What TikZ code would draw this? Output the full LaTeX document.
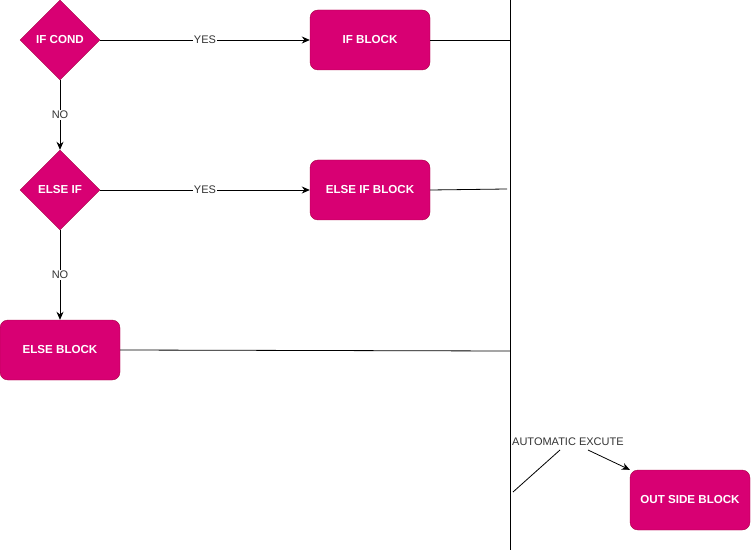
\documentclass[tikz,border=0pt]{standalone}
\usepackage{fontspec}
\setmainfont{Liberation Sans}
\usetikzlibrary{shapes.geometric,arrows.meta}
\definecolor{mag}{HTML}{D80073}
\definecolor{magline}{HTML}{A50040}
\definecolor{lbl}{HTML}{333333}
\tikzset{
  blk/.style={draw=magline,fill=mag,rounded corners=8pt,minimum width=120pt,minimum height=60pt,inner sep=0pt,text=white,font=\bfseries\fontsize{11.6pt}{13pt}\selectfont},
  dia/.style={diamond,draw=magline,fill=mag,minimum width=80pt,minimum height=80pt,inner sep=0pt,text=white,font=\bfseries\fontsize{11.6pt}{13pt}\selectfont},
  arr/.style={-{Stealth[length=8pt,width=7pt]},line width=0.8pt},
  ln/.style={line width=0.8pt},
  elbl/.style={fill=white,inner sep=1pt,text=lbl,font=\fontsize{11pt}{13pt}\selectfont}
}
\begin{document}
\begin{tikzpicture}[x=1pt,y=-1pt]
\useasboundingbox (0,0) rectangle (752,553);
\node[dia] (ifc) at (60,40) {IF COND};
\node[blk] (ifb) at (370,40) {IF BLOCK};
\node[dia] (elif) at (60,190) {ELSE IF};
\node[blk] (elifb) at (370,190) {ELSE IF BLOCK};
\node[blk] (elseb) at (60,350) {ELSE BLOCK};
\node[blk] (outb) at (690,500) {OUT SIDE BLOCK};
\coordinate (vtop) at (510,0);
\coordinate (vbot) at (510,550);
\coordinate (j1) at (510,40);
\coordinate (j2) at (507,189);
\coordinate (j3) at (510,351);
\coordinate (a1) at (513,492);
\coordinate (a2) at (560,450);
\coordinate (a3) at (588,450);
\node[inner sep=0pt,anchor=west,text=lbl,font=\fontsize{11pt}{13pt}\selectfont] (auto) at (512,442) {AUTOMATIC EXCUTE};
\draw[ln] (vtop) -- (vbot);
\draw[arr] (ifc.east) -- node[elbl]{YES} (ifb.west);
\draw[arr] (ifc.south) -- node[elbl]{NO} (elif.north);
\draw[arr] (elif.east) -- node[elbl]{YES} (elifb.west);
\draw[arr] (elif.south) -- node[elbl]{NO} (elseb.north);
\draw[ln] (ifb.east) -- (j1);
\draw[ln] (elifb.east) -- (j2);
\draw[ln] (elseb.east) -- (j3);
\draw[ln] (a1) -- (a2);
\draw[arr] (a3) -- (outb.north west);
\end{tikzpicture}
\end{document}
